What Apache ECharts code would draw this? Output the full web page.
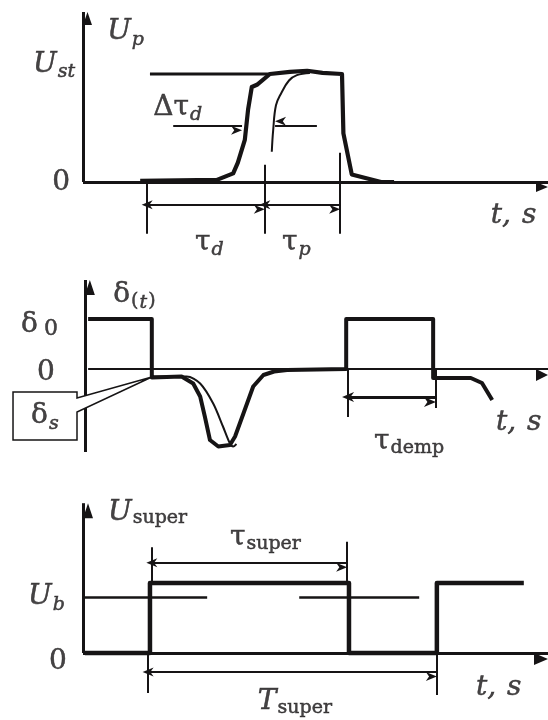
<!DOCTYPE html>
<html>
<head>
<meta charset="utf-8">
<script src="https://cdn.jsdelivr.net/npm/echarts@6/dist/echarts.min.js"></script>
<style>
  html, body { margin: 0; padding: 0; background: #fff; }
  #main { width: 548px; height: 720px; }
</style>
</head>
<body>
<div id="main"></div>
<script>
// ---- panel 1: U_p(t), time in % of the axis, level in units of U_st
const pulseT = [12.3, 28.8, 32.3, 33.3, 34.8, 35.5, 36.3, 37.4, 40.2, 44.5, 48.2, 51.5, 55.7, 56.0, 57.8, 64.1, 66.9];
const pulseU = [0.01, 0.02, 0.08, 0.18, 0.39, 0.67, 0.88, 0.90, 1.0, 1.02, 1.03, 1.01, 1.0, 0.45, 0.07, 0.0, 0.0];
const lateT = [40.6, 40.9, 41.5, 42.6, 44.3, 46.0, 48.8];
const lateU = [0.28, 0.48, 0.71, 0.82, 0.94, 0.99, 1.01];
const ustT = [14.4, 40.2];
const tauMarkT = [13.8, 39.1, 55.3];
const tauMarkTop = [0, 0.16, 0.27];
const tauMarkBottom = -0.48;
const tauDimLevel = -0.21;
const dTauLeft = [19.4, 34.2];
const dTauRight = [50.3, 41.3];
const dTauLevel = 0.52;

// ---- panel 2: delta(t), level in units of delta_0
const deltaT = [1.1, 14.8, 14.8, 21.2, 23.7, 25.2, 26.2, 27.3, 29.1, 31.6, 32.7, 34.5, 36.6, 38.8, 41.1, 43.9, 56.6, 56.6, 75.3, 75.3, 83.4, 85.8, 88.0];
const deltaV = [1, 1, -0.17, -0.15, -0.29, -0.55, -0.95, -1.42, -1.55, -1.52, -1.35, -0.89, -0.35, -0.12, -0.05, -0.02, 0, 1, 1, -0.18, -0.18, -0.28, -0.62];
const delta2T = [14.8, 22.3, 25.2, 28.0, 30.1, 31.6, 32.3, 33.0];
const delta2V = [-0.15, -0.15, -0.29, -0.69, -1.15, -1.49, -1.55, -1.5];
const dempMarkT = [57.0, 75.9];
const dempMarkBottom = [-0.96, -0.78];
const dempLevel = -0.56;
const calloutT = [-15.05, -1.29, -1.29, 14.8, -1.29, -1.29, -15.05];
const calloutV = [-0.46, -0.46, -0.58, -0.16, -0.86, -1.42, -1.42];

// ---- panel 3: U_super(t), level in units of the pulse height
const superT = [0.4, 14.4, 14.4, 57.2, 57.2, 76.1, 76.1, 94.8];
const superU = [0, 0, 1, 1, 0, 0, 1, 1];
const ubLevel = 0.8;
const ubSegs = [[0, 26.7], [46.5, 72.3]];
const superTopMarks = [[14.8, 1.51], [56.8, 1.59]];
const superBottomMarks = [[14.0, -0.57], [76.1, -0.6]];
const tauSuperLevel = 1.29;
const periodLevel = -0.27;

const INK = '#161415';
const SERIF = '"DejaVu Serif", "Liberation Serif", serif';
const X0 = 83, PX = 4.65, X_MIN = -17, X_MAX = 100;
const panels = [
  { zeroY: 182, py: 108, min: -0.7, max: 1.6 },
  { zeroY: 369, py: 50, min: -2.2, max: 2.0 },
  { zeroY: 653, py: 70, min: -0.9, max: 2.3 }
];
const DIM = 'path://M5,0L10,12L5,8.5L0,12Z';

const pts = (xs, ys) => xs.map((x, i) => [x, ys[i]]);
function seg(a, b, width, s0, s1, size0, size1) {
  return [
    { coord: a, symbol: s0 || 'none', symbolSize: size0 || 1, lineStyle: { width: width, color: INK, type: 'solid' } },
    { coord: b, symbol: s1 || 'none', symbolSize: size1 || 1 }
  ];
}
function marks(data) {
  return {
    silent: true, animation: false, symbolOffset: [0, '50%'],
    label: { show: false }, emphasis: { disabled: true },
    lineStyle: { color: INK, type: 'solid' },
    itemStyle: { color: INK },
    data: data
  };
}
function curve(i, data, width, smooth, ml) {
  return {
    type: 'line', xAxisIndex: i, yAxisIndex: i, data: data, symbol: 'none',
    smooth: smooth || false, clip: false, silent: true,
    lineStyle: { color: INK, width: width, join: 'round' },
    markLine: ml
  };
}
// a thin outline in the ink colour makes the glyphs as heavy as in the print
const ink = { color: INK, textBorderColor: INK, textBorderWidth: 0.5 };
const rich = {
  i: { fontFamily: SERIF, fontStyle: 'italic', fontSize: 28, ...ink },
  ip: { fontFamily: SERIF, fontStyle: 'italic', fontSize: 28, padding: [0, 0, 0, 11], ...ink },
  r: { fontFamily: SERIF, fontSize: 28, ...ink },
  si: { fontFamily: SERIF, fontStyle: 'italic', fontSize: 19, padding: [16, 0, 0, 1], ...ink },
  sr: { fontFamily: SERIF, fontSize: 19, padding: [12, 0, 0, 1], ...ink },
  z: { fontFamily: SERIF, fontSize: 22, padding: [8, 0, 0, 6], ...ink }
};
function labels(i, items) {
  return {
    type: 'scatter', xAxisIndex: i, yAxisIndex: i, symbolSize: 0, silent: true, z: 20, clip: false,
    data: items.map(it => ({
      value: it[0],
      label: { show: true, position: 'inside', formatter: it[1], align: it[2] || 'left', verticalAlign: 'middle', rich: rich }
    }))
  };
}

const chart = echarts.init(document.getElementById('main'));
chart.setOption({
  animation: false,
  backgroundColor: '#fff',
  grid: panels.map(p => ({
    left: X0 + X_MIN * PX, width: (X_MAX - X_MIN) * PX,
    top: p.zeroY - p.max * p.py, height: (p.max - p.min) * p.py
  })),
  xAxis: panels.map((p, i) => ({ type: 'value', gridIndex: i, min: X_MIN, max: X_MAX, show: false })),
  yAxis: panels.map((p, i) => ({ type: 'value', gridIndex: i, min: p.min, max: p.max, show: false })),
  series: [
    // panel 1
    curve(0, pts(ustT, [1, 1]), 3),
    curve(0, pts(lateT, lateU), 2, 0.4),
    curve(0, pts(pulseT, pulseU), 4.2, false, marks([
      seg([0, 0], [0, 1.574], 3, 'none', 'triangle', 1, [9, 13]),
      seg([0, 0], [100, 0], 3, 'none', 'triangle', 1, [10, 12]),
      ...tauMarkT.map((t, k) => seg([t, tauMarkTop[k]], [t, tauMarkBottom], 2)),
      seg([tauMarkT[0], tauDimLevel], [tauMarkT[1], tauDimLevel], 1.8, DIM, DIM, [9, 11], [9, 11]),
      seg([tauMarkT[1], tauDimLevel], [tauMarkT[2], tauDimLevel], 1.8, DIM, DIM, [9, 11], [9, 11]),
      seg([dTauLeft[0], dTauLevel], [dTauLeft[1], dTauLevel], 2, 'none', DIM, 1, [9, 11]),
      seg([dTauRight[0], dTauLevel], [dTauRight[1], dTauLevel], 2, 'none', DIM, 1, [9, 11])
    ])),
    labels(0, [
      [[5.2, 1.39], '{i|U}{si|p}'],
      [[-1.7, 1.09], '{i|U}{si|st}', 'right'],
      [[-4.7, -0.01], '{r|0}', 'center'],
      [[15.1, 0.69], '{r|Δτ}{si|d}'],
      [[24.1, -0.56], '{r|τ}{si|d}'],
      [[42.8, -0.56], '{r|τ}{si|p}'],
      [[87.7, -0.31], '{i|t,}{ip|s}']
    ]),
    // panel 2
    curve(1, pts(delta2T, delta2V), 2, 0.3),
    curve(1, pts(deltaT, deltaV), 4, false, marks([
      seg([0.4, -1.66], [0.4, 1.78], 3, 'none', 'triangle', 1, [10, 15]),
      seg([1.1, 0], [100, 0], 2, 'none', 'triangle', 1, [12, 12]),
      ...dempMarkT.map((t, k) => seg([t, 0], [t, dempMarkBottom[k]], 2)),
      seg([dempMarkT[0], dempLevel], [dempMarkT[1], dempLevel], 3, DIM, DIM, [10, 12], [10, 12])
    ])),
    {
      type: 'custom', xAxisIndex: 1, yAxisIndex: 1, z: 10, silent: true,
      data: [[calloutT[0], calloutV[0]]],
      renderItem: (params, api) => ({
        type: 'polygon',
        shape: { points: calloutT.map((t, k) => api.coord([t, calloutV[k]])) },
        style: { fill: '#fff', stroke: INK, lineWidth: 1.5 }
      })
    },
    labels(1, [
      [[6.5, 1.48], '{r|δ}{sr|(}{si|t}{sr|)}'],
      [[-5.4, 0.88], '{r|δ}{z|0}', 'right'],
      [[-7.96, -0.08], '{r|0}', 'center'],
      [[-8.2, -0.94], '{r|δ}{si|s}', 'center'],
      [[88.8, -1.08], '{i|t,}{ip|s}'],
      [[62.6, -1.46], '{r|τ}{sr|demp}']
    ]),
    // panel 3
    curve(2, pts(superT, superU), 4.5, false, marks([
      seg([0, 0], [0, 2.14], 3, 'none', 'triangle', 1, [10, 15]),
      seg([0, 0], [100, 0], 3, 'none', 'triangle', 1, [12, 14]),
      ...ubSegs.map(s => seg([s[0], ubLevel], [s[1], ubLevel], 2.5)),
      ...superTopMarks.map(m => seg([m[0], 1], [m[0], m[1]], 2)),
      ...superBottomMarks.map(m => seg([m[0], 0], [m[0], m[1]], 2)),
      seg([superTopMarks[0][0], tauSuperLevel], [superTopMarks[1][0], tauSuperLevel], 2, DIM, DIM, [9, 11], [9, 11]),
      seg([superBottomMarks[0][0], periodLevel], [superBottomMarks[1][0], periodLevel], 2, DIM, DIM, [9, 11], [9, 11])
    ])),
    labels(2, [
      [[5.4, 2.01], '{i|U}{sr|super}'],
      [[31.6, 1.64], '{r|τ}{sr|super}'],
      [[-3.9, 0.8], '{i|U}{si|b}', 'right'],
      [[-5.4, -0.13], '{r|0}', 'center'],
      [[37.6, -0.7], '{i|T}{sr|super}'],
      [[84.5, -0.5], '{i|t,}{ip|s}']
    ])
  ]
});
</script>
</body>
</html>
